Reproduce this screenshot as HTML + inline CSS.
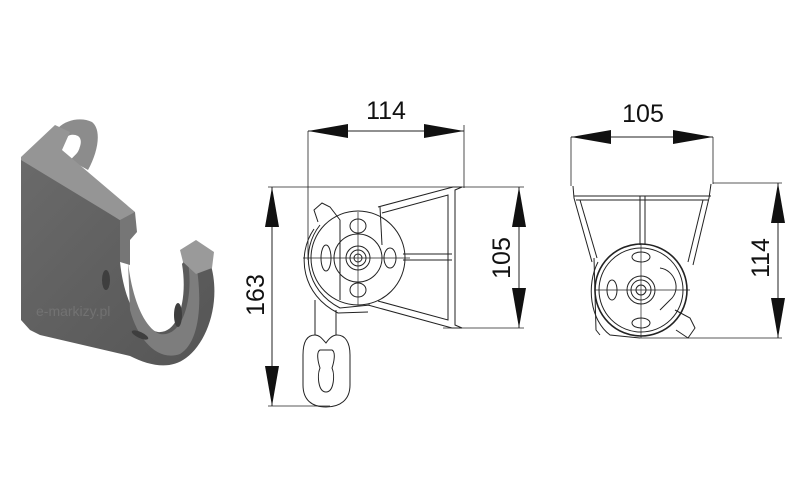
<!DOCTYPE html>
<html><head><meta charset="utf-8"><style>
html,body{margin:0;padding:0;background:#fff;width:800px;height:500px;overflow:hidden}
svg{display:block}
text{font-family:"Liberation Sans",sans-serif;fill:#111}
</style></head><body>
<svg width="800" height="500" viewBox="0 0 800 500" xmlns="http://www.w3.org/2000/svg">
<defs>
<linearGradient id="g1" x1="0" y1="0" x2="1" y2="1"><stop offset="0" stop-color="#6a6a6a"/><stop offset="1" stop-color="#555"/></linearGradient>
</defs>
<!-- 3D bracket -->
<g>
  <path d="M52,140 C55,122 78,115 92,122 C102,130 98,152 88,170 L70,160 C80,152 84,140 78,136 C70,132 62,138 60,148 Z" fill="#8c8c8c"/>
  <ellipse cx="72" cy="148" rx="7" ry="10" fill="#fff" transform="rotate(30 72 148)"/>
  <path d="M21,157 L55,125 L70,132 L62,150 L135,212 L135,220 L120,220 L21,162 Z" fill="#959595"/>
  <path d="M21,160 L120,220 L120,262 C124,300 138,328 158,332 C178,334 188,300 182,264 L192,250 L210,262 C222,300 208,342 186,358 C170,370 150,366 130,356 L40,335 L30,330 L21,320 Z" fill="url(#g1)"/>
  <path d="M120,220 L135,212 L137,232 L130,240 L130,265 L120,262 Z" fill="#767676"/>
  <path d="M128,262 C132,298 144,328 160,334 C182,338 194,300 188,262 L194,252 C204,300 200,342 180,354 C158,362 138,340 130,310 Z" fill="#7d7d7d"/>
  <path d="M180,250 L196,240 L214,252 L212,268 L196,274 L183,262 Z" fill="#9a9a9a"/>
  <ellipse cx="106" cy="280" rx="4" ry="10" fill="#3e3e3e"/>
  <ellipse cx="178" cy="315" rx="4" ry="12" fill="#3e3e3e"/>
  <ellipse cx="140" cy="335" rx="9" ry="3" fill="#3e3e3e" transform="rotate(25 140 335)"/>
  <text x="36" y="316" font-size="14" style="fill:#7f7f7f;opacity:.6">e-markizy.pl</text>
</g>

<!-- Middle drawing -->
<g stroke="#222" fill="none" stroke-width="1">
  <line x1="308" y1="131" x2="464" y2="131"/>
  <line x1="308" y1="131" x2="308" y2="260" stroke-width="0.8"/>
  <line x1="464" y1="125" x2="464" y2="188" stroke-width="0.8"/>
  <line x1="268" y1="187" x2="524" y2="187" stroke-width="0.8"/>
  <line x1="443" y1="328" x2="524" y2="328" stroke-width="0.8"/>
  <line x1="519" y1="187" x2="519" y2="328"/>
  <line x1="272" y1="187" x2="272" y2="406"/>
  <line x1="268" y1="406" x2="330" y2="406" stroke-width="0.8"/>
  <path d="M378,207 L453,187 L462,187 L455,190 L455,325 L462,328 L452,328 L368,305"/>
  <path d="M382,213 L448,195 L448,320 L378,301"/>
  <line x1="403" y1="254" x2="452" y2="254"/>
  <line x1="403" y1="260" x2="452" y2="260"/>
  <circle cx="358" cy="258" r="47"/>
  <path d="M320,225 C300,250 305,290 340,308 L370,305"/>
  <path d="M314,229 C296,255 302,295 338,313 L368,312"/>
  <path d="M318,222 L314,210 L322,203 L330,207 L340,220 L340,300"/>
  <path d="M380,207 L382,245"/>
  <circle cx="358" cy="258" r="24"/>
  <circle cx="358" cy="258" r="12"/>
  <circle cx="358" cy="258" r="8"/>
  <circle cx="358" cy="258" r="4"/>
  <ellipse cx="358" cy="226" rx="8" ry="7"/>
  <ellipse cx="358" cy="290" rx="8" ry="7"/>
  <ellipse cx="390" cy="258" rx="6" ry="10"/>
  <ellipse cx="326" cy="258" rx="5" ry="13"/>
  <line x1="303" y1="258" x2="410" y2="258" stroke-width="0.7"/>
  <line x1="358" y1="212" x2="358" y2="305" stroke-width="0.7"/>
  <line x1="315" y1="300" x2="315" y2="335"/>
  <line x1="336" y1="310" x2="336" y2="335"/>
  <path d="M315,335 C305,335 303,345 303,355 L303,385 C303,400 312,407 326,407 C340,407 350,400 350,385 L350,355 C350,342 345,335 337,335 C332,335 328,340 326,343 C323,340 320,335 315,335 Z"/>
  <path d="M320,350 C316,352 318,362 320,368 C317,375 318,392 326,392 C334,392 335,375 332,368 C334,362 336,352 332,350 Z"/>
</g>
<g fill="#111">
  <polygon points="308,131 348,124 348,138"/>
  <polygon points="464,131 424,124 424,138"/>
  <polygon points="519,187 512,227 526,227"/>
  <polygon points="519,328 512,288 526,288"/>
  <polygon points="272,187 265,227 279,227"/>
  <polygon points="272,406 265,366 279,366"/>
</g>
<text x="386" y="119" font-size="25" text-anchor="middle">114</text>
<text transform="translate(510,258) rotate(-90)" font-size="25" text-anchor="middle">105</text>
<text transform="translate(264,295) rotate(-90)" font-size="25" text-anchor="middle">163</text>

<!-- Right drawing -->
<g stroke="#222" fill="none" stroke-width="1">
  <line x1="571" y1="137" x2="713" y2="137"/>
  <line x1="571" y1="137" x2="571" y2="186" stroke-width="0.8"/>
  <line x1="713" y1="137" x2="713" y2="184" stroke-width="0.8"/>
  <line x1="713" y1="183" x2="782" y2="183" stroke-width="0.8"/>
  <line x1="640" y1="338" x2="782" y2="338" stroke-width="0.8"/>
  <line x1="778" y1="183" x2="778" y2="338"/>
  <path d="M573,186 L574,198 L592,262"/>
  <path d="M711,184 L709,198 L693,265"/>
  <line x1="574" y1="196" x2="711" y2="196"/>
  <line x1="576" y1="200" x2="708" y2="200"/>
  <path d="M580,200 L597,258"/>
  <path d="M703,200 L688,262"/>
  <line x1="640" y1="196" x2="640" y2="245"/>
  <line x1="645" y1="196" x2="645" y2="245"/>
  <path d="M598,262 C586,285 590,320 610,335 L640,338"/>
  <path d="M594,258 L596,330 L600,335"/>
  <circle cx="641" cy="290" r="46" stroke-width="1.6"/>
  <circle cx="641" cy="290" r="42"/>
  <circle cx="641" cy="290" r="14"/>
  <circle cx="641" cy="290" r="10"/>
  <circle cx="641" cy="290" r="5"/>
  <ellipse cx="641" cy="257" rx="9" ry="5"/>
  <ellipse cx="641" cy="323" rx="9" ry="5"/>
  <ellipse cx="612" cy="290" rx="5" ry="10"/>
  <path d="M660,268 C675,270 682,290 670,300 L660,310"/>
  <path d="M675,310 L690,318 L695,328 L688,338 L676,330"/>
  <line x1="595" y1="290" x2="690" y2="290" stroke-width="0.7"/>
  <line x1="641" y1="244" x2="641" y2="338" stroke-width="0.7"/>
</g>
<g fill="#111">
  <polygon points="571,137 611,130 611,144"/>
  <polygon points="713,137 673,130 673,144"/>
  <polygon points="778,183 771,223 785,223"/>
  <polygon points="778,338 771,298 785,298"/>
</g>
<text x="643" y="122" font-size="25" text-anchor="middle">105</text>
<text transform="translate(769,258) rotate(-90)" font-size="25" text-anchor="middle">114</text>
</svg>
</body></html>
